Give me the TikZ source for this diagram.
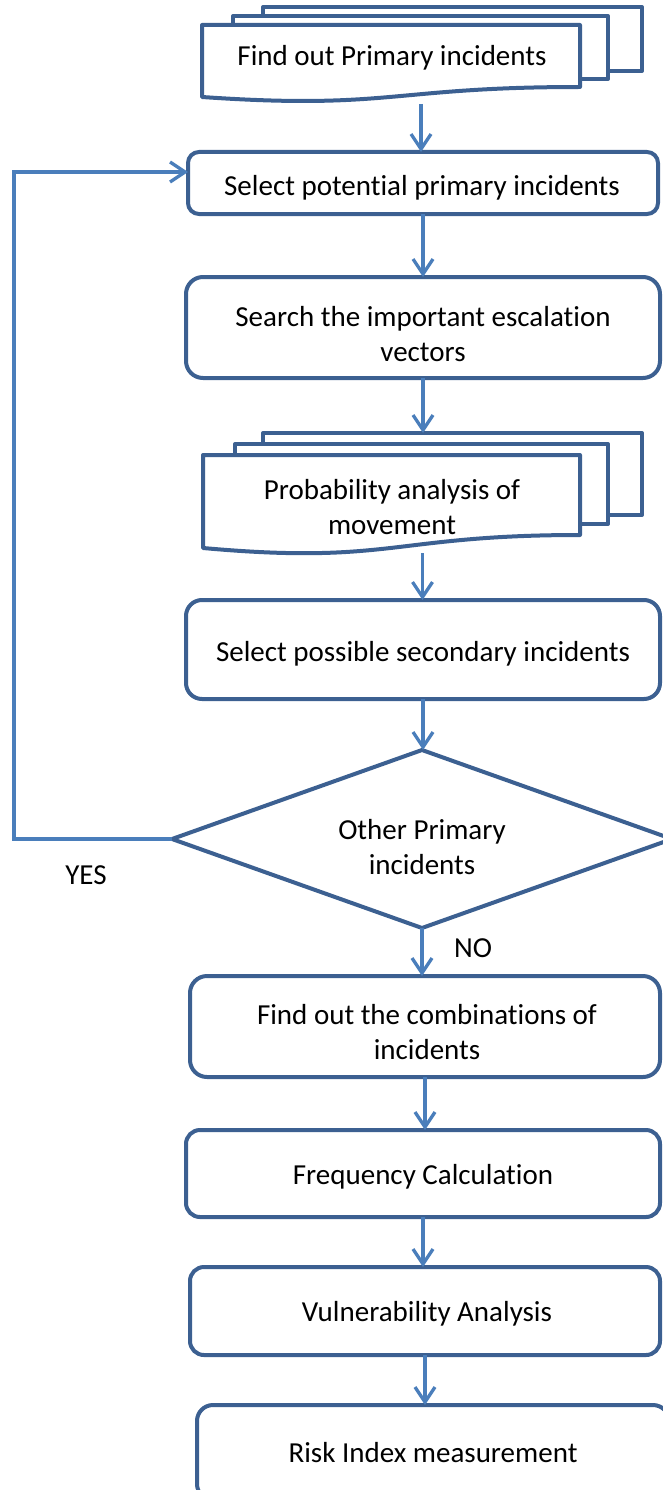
\documentclass[tikz,border=0pt]{standalone}
\usepackage{fontspec}
\setmainfont{Carlito}[Ligatures=NoCommon]
\usetikzlibrary{arrows.meta,shapes.geometric}
\definecolor{edgeblue}{HTML}{3C6091}
\definecolor{arrowblue}{HTML}{4A7EBB}

\begin{document}
\begin{tikzpicture}[x=1pt,y=-1pt,
  lbl/.style={font=\fontsize{29}{35}\selectfont, align=center, inner sep=0pt},
  box/.style={draw=edgeblue, line width=4pt, fill=white, inner sep=0pt, outer sep=0pt},
  sheet/.style={draw=edgeblue, line width=4pt, fill=white, line join=round},
  ghost/.style={inner sep=0pt, outer sep=0pt},
  arr/.style={draw=arrowblue, line width=3.3pt,
    -{Straight Barb[length=15pt, width=20pt, line width=3.3pt]}}
]
\useasboundingbox (0,0) rectangle (663,1490);
\clip (0,0) rectangle (663,1490);

% stacked documents: find out primary incidents
\draw[sheet] (263,7) rectangle (642,71);
\draw[sheet] (233,16) rectangle (608,79);
\draw[sheet] (202,25) -- (580,25) -- (580,87)
  .. controls (391,87) and (391,110) .. (202,97) -- cycle;
\node[ghost, minimum width=440pt, minimum height=97pt] (d1) at (421,55.5) {};
\node[lbl] (d1t) at (392,58) {Find out Primary incidents};

\node[box, rounded corners=11pt, minimum width=470pt, minimum height=62pt] (b2) at (423,183) {};
\node[lbl] (b2t) at (422,188) {Select potential primary incidents};

\node[box, rounded corners=17pt, minimum width=474pt, minimum height=101pt] (b3) at (423,327.5) {};
\node[lbl] (b3t) at (423,334.5) {Search the important escalation\\vectors};

% stacked documents: probability analysis
\draw[sheet] (263,433) rectangle (642,515);
\draw[sheet] (235,444) rectangle (608,524);
\draw[sheet] (203,455) -- (580,455) -- (580,535)
  .. controls (391.5,535) and (391.5,565) .. (203,548) -- cycle;
\node[ghost, minimum width=439pt, minimum height=120pt] (d2) at (422.5,493) {};
\node[lbl] (d2t) at (392,507) {Probability analysis of\\movement};

\node[box, rounded corners=16pt, minimum width=474pt, minimum height=99pt] (b5) at (423,649.5) {};
\node[lbl] (b5t) at (423,654) {Select possible secondary incidents};

% decision
\node[draw=edgeblue, line width=4pt, fill=white, diamond, inner sep=0pt, outer sep=0pt,
  minimum width=500pt, minimum height=178pt] (dia) at (422,839) {};
\node[lbl] (diat) at (422,847) {Other Primary\\incidents};

\node[box, rounded corners=17pt, minimum width=470pt, minimum height=101pt] (b7) at (425,1026.5) {};
\node[lbl] (b7t) at (427,1032) {Find out the combinations of\\incidents};

\node[box, rounded corners=14pt, minimum width=474pt, minimum height=87pt] (b8) at (423,1173.5) {};
\node[lbl] (b8t) at (423,1177) {Frequency Calculation};

\node[box, rounded corners=14pt, minimum width=470pt, minimum height=88pt] (b9) at (425,1311) {};
\node[lbl] (b9t) at (427,1314) {Vulnerability Analysis};

\node[box, rounded corners=16pt, minimum width=472pt, minimum height=95pt] (b10) at (433,1452.5) {};
\node[lbl] (b10t) at (433,1453) {Risk Index measurement};

% connectors
\draw[arr] (d1.south) -- (d1.south |- b2.north);
\draw[arr] (b2.south) -- (b2.south |- b3.north);
\draw[arr] (b3.south) -- (b3.south |- d2.north);
\draw[arr] (d2.south) -- (d2.south |- b5.north);
\draw[arr] (b5.south) -- (b5.south |- dia.north);
\draw[arr] (dia.south) -- (dia.south |- b7.north);
\draw[arr] (b7.south) -- (b7.south |- b8.north);
\draw[arr] (b8.south) -- (b8.south |- b9.north);
\draw[arr] (b9.south) -- (b9.south |- b10.north);

\coordinate (lp) at (14,839);
\draw[arr, line join=miter] (dia.west) -- (lp) |- ([yshift=11pt]b2.west);

\node[lbl] (yes) at (86,875) {YES};
\node[lbl] (no) at (473,948) {NO};
\end{tikzpicture}
\end{document}
